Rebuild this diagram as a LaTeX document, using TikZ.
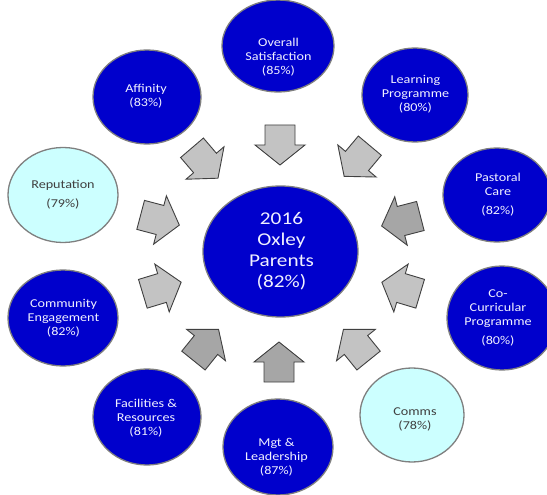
\documentclass[tikz,border=0pt]{standalone}
\usepackage{fontspec}
\setmainfont{Carlito}[FakeStretch=1.18]
\usetikzlibrary{shapes.geometric}
\definecolor{circblue}{HTML}{0000CC}
\definecolor{circcyan}{HTML}{CCFFFF}
\definecolor{circedge}{HTML}{7F7F7F}
\definecolor{lighttext}{HTML}{F0F0FF}
\definecolor{darktext}{HTML}{404040}
\definecolor{arrlight}{HTML}{C3C3C3}
\definecolor{arrdark}{HTML}{A6A6A6}
\definecolor{arredge}{HTML}{404040}
\tikzset{
  bubble/.style={ellipse, draw=circedge, line width=1.3pt, inner sep=0pt},
  bluebubble/.style={bubble, fill=circblue},
  cyanbubble/.style={bubble, fill=circcyan},
  lbl/.style={align=center, font=\fontsize{12}{14}\selectfont, inner sep=0pt},
  bluelbl/.style={lbl, text=lighttext},
  cyanlbl/.style={lbl, text=darktext},
  biglbl/.style={align=center, font=\fontsize{18}{21}\selectfont, inner sep=0pt, text=lighttext},
  blockarrow/.style={draw=arredge, line width=0.9pt, line join=miter},
  lightarrow/.style={blockarrow, fill=arrlight},
  darkarrow/.style={blockarrow, fill=arrdark},
  pics/barrow/.style={code={
    \path[pic actions] (-20,-15) -- (0,-15) -- (0,-25) -- (20,0) -- (0,25) -- (0,15) -- (-20,15) -- cycle;
  }},
}
\begin{document}
\begin{tikzpicture}[x=1pt,y=1pt]
\useasboundingbox (0,0) rectangle (547,-495);

% circles
\node[bluebubble, minimum width=155, minimum height=131] (ctr) at (280.5,-251.5) {};
\node[bluebubble, minimum width=112, minimum height=92] (ovr) at (278,-46) {};
\node[bluebubble, minimum width=106, minimum height=94] (lrn) at (415,-95) {};
\node[bluebubble, minimum width=108, minimum height=94] (aff) at (147,-97) {};
\node[bluebubble, minimum width=108, minimum height=94] (pas) at (497,-195) {};
\node[bluebubble, minimum width=110, minimum height=104] (cur) at (502,-318) {};
\node[cyanbubble, minimum width=104, minimum height=94] (com) at (412,-415) {};
\node[bluebubble, minimum width=110, minimum height=96] (mgt) at (278,-447) {};
\node[bluebubble, minimum width=108, minimum height=96] (fac) at (147,-417) {};
\node[bluebubble, minimum width=110, minimum height=96] (cmy) at (63,-318) {};
\node[cyanbubble, minimum width=110, minimum height=95] (rep) at (63,-195) {};

% labels
\node[biglbl] (ctrt) at (281.5,-251.5) {2016\\Oxley\\Parents\\(82\%)};
\node[bluelbl] (ovrt) at (278.5,-57.5) {Overall\\Satisfaction\\(85\%)};
\node[bluelbl] (lrnt) at (415.5,-94.5) {Learning\\Programme\\(80\%)};
\node[bluelbl] (afft) at (146,-96) {Affinity\\(83\%)};
\node[bluelbl] (past) at (498,-195) {Pastoral\\Care\\[5pt](82\%)};
\node[bluelbl] (curt) at (498,-317.5) {Co-\\Curricular\\Programme\\[5pt](80\%)};
\node[cyanlbl] (comt) at (415,-419) {Comms\\(78\%)};
\node[bluelbl] (mgtt) at (276.5,-457) {Mgt \&\\Leadership\\(87\%)};
\node[bluelbl] (fact) at (146,-418) {Facilities \&\\Resources\\(81\%)};
\node[bluelbl] (cmyt) at (63.5,-318) {Community\\Engagement\\(82\%)};
\node[cyanlbl] (rept) at (63,-194.5) {Reputation\\[5pt](79\%)};

% block arrows
\pic[lightarrow, rotate=-90] (a1) at (280,-145) {barrow};
\pic[lightarrow, rotate=-49.5] (a2) at (205,-163) {barrow};
\pic[lightarrow, rotate=-129.9] (a3) at (357,-161) {barrow};
\pic[lightarrow, rotate=-14.8] (a4) at (160,-220) {barrow};
\pic[lightarrow, rotate=16.8] (a5) at (162,-288) {barrow};
\pic[darkarrow, rotate=51.1] (a6) at (206,-345) {barrow};
\pic[darkarrow, rotate=90] (a7) at (279,-362) {barrow};
\pic[lightarrow, rotate=128.9] (a8) at (356,-345) {barrow};
\pic[darkarrow, rotate=-165.5] (a9) at (401,-221) {barrow};
\pic[lightarrow, rotate=163.3] (a10) at (401,-288) {barrow};
\end{tikzpicture}
\end{document}
